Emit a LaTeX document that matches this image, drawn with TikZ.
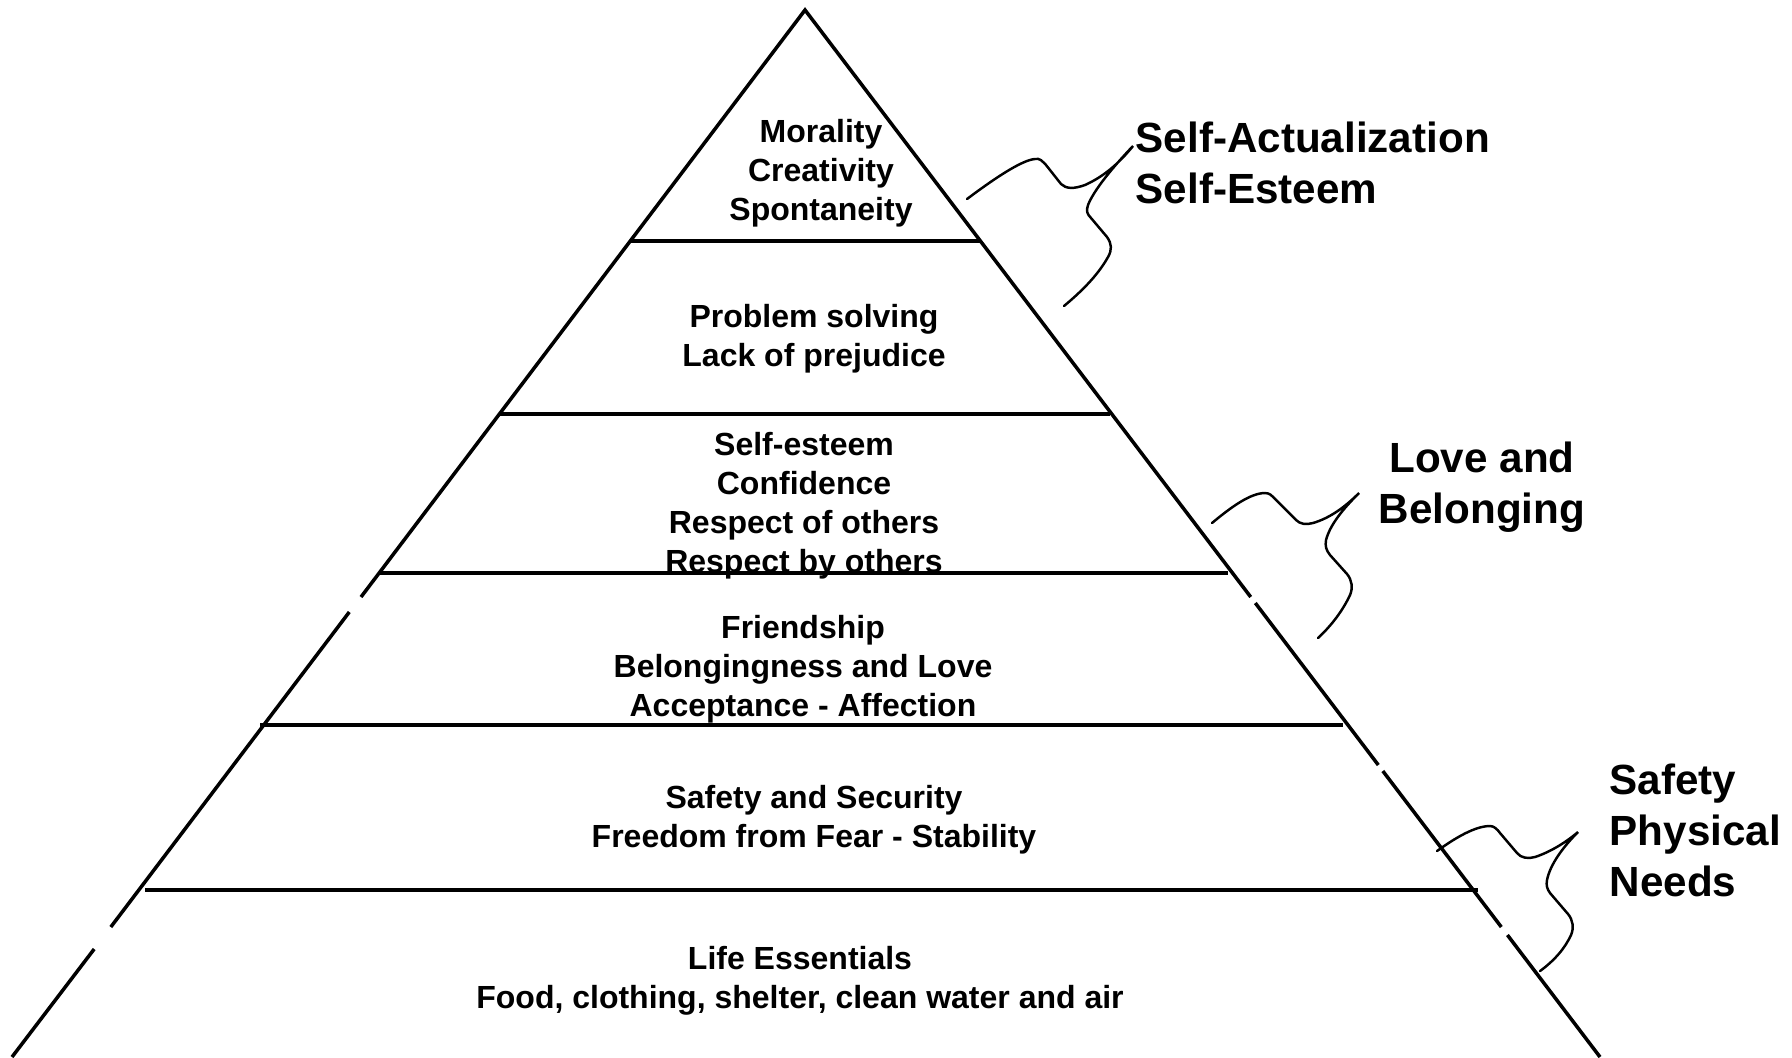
\documentclass[tikz,border=0pt]{standalone}
\usepackage{fontspec}
\setmainfont{Liberation Sans}
\begin{document}
\begin{tikzpicture}[x=0.01cm,y=-0.01cm,
  edge/.style={line width=1pt},
  curl/.style={line width=0.7pt,line cap=round},
  level/.style={font=\fontsize{9.1}{11.1}\selectfont\bfseries,align=center,inner sep=0pt},
  need/.style={font=\fontsize{12}{14.5}\selectfont\bfseries,inner sep=0pt}]

\useasboundingbox (0,0) rectangle (1792,1057);

% Define points
\coordinate (A) at (805,10);
\coordinate (BL) at (12,1057);
\coordinate (BR) at (1600,1057);
\coordinate (L1) at (94.2,949);
\coordinate (L2) at (110.8,927);
\coordinate (L3) at (349.3,612);
\coordinate (L4) at (361,597);
\coordinate (R1) at (1250.7,597);
\coordinate (R2) at (1255.3,603);
\coordinate (R3) at (1378.3,765);
\coordinate (R4) at (1382.8,771);
\coordinate (R5) at (1501.3,927);
\coordinate (R6) at (1507.4,935);

% Draw pyramid sides (with the small breaks)
\draw[edge] (BL) -- (L1);
\draw[edge] (L2) -- (L3);
\draw[edge] (L4) -- (A) -- (R1);
\draw[edge] (R2) -- (R3);
\draw[edge] (R4) -- (R5);
\draw[edge] (R6) -- (BR);

% Draw levels
\draw[edge] (630,241) -- (980,241);
\draw[edge] (499,414) -- (1110,414);
\draw[edge] (380,573) -- (1228,573);
\draw[edge] (260,725) -- (1343,725);
\draw[edge] (145,890) -- (1478,890);

% Draw braces
\draw[curl] (967,199) .. controls (995,178) and (1022,160) .. (1035,159)
  .. controls (1040,158) and (1042,161) .. (1046,165) -- (1061,184)
  .. controls (1066,189) and (1074,189) .. (1085,185)
  .. controls (1105,176) and (1120,162) .. (1133,146)
  .. controls (1112,168) and (1094,190) .. (1088,205)
  .. controls (1086,211) and (1087,214) .. (1091,218) -- (1107,237)
  .. controls (1112,244) and (1112,250) .. (1108,257)
  .. controls (1098,275) and (1082,291) .. (1064,306);
\draw[curl] (1212,523) .. controls (1230,508) and (1250,493) .. (1265,493)
  .. controls (1270,493) and (1272,496) .. (1275,499) -- (1296,520)
  .. controls (1300,524) and (1306,525) .. (1313,523)
  .. controls (1330,518) and (1345,507) .. (1359,493)
  .. controls (1342,510) and (1330,525) .. (1326,540)
  .. controls (1325,546) and (1326,550) .. (1330,555) -- (1347,574)
  .. controls (1352,580) and (1353,588) .. (1350,595)
  .. controls (1343,610) and (1332,625) .. (1318,638);
\draw[curl] (1437,851) .. controls (1455,838) and (1475,826) .. (1490,826)
  .. controls (1494,826) and (1497,829) .. (1500,833) -- (1517,853)
  .. controls (1521,858) and (1528,859) .. (1535,857)
  .. controls (1550,852) and (1565,843) .. (1578,832)
  .. controls (1562,848) and (1550,865) .. (1547,880)
  .. controls (1546,885) and (1547,889) .. (1550,893) -- (1568,914)
  .. controls (1573,920) and (1574,928) .. (1571,935)
  .. controls (1565,948) and (1555,960) .. (1540,971);

% Labels
\node[level] (morality) at (821,173) {Morality\\Creativity\\Spontaneity};
\node[level] (problem) at (814,339) {Problem solving\\Lack of prejudice};
\node[level] (esteem) at (804,506) {Self-esteem\\Confidence\\Respect of others\\Respect by others};
\node[level] (friend) at (803,669) {Friendship\\Belongingness and Love\\Acceptance - Affection};
\node[level] (safety) at (814,820) {Safety and Security\\Freedom from Fear - Stability};
\node[level] (life) at (800,981) {Life Essentials\\Food, clothing, shelter, clean water and air};

\node[need,anchor=west,align=left] (selfact) at (1135,163) {Self-Actualization\\Self-Esteem};
\node[need,align=center] (love) at (1482,487) {Love and\\Belonging};
\node[need,anchor=west,align=left] (physical) at (1609,830) {Safety\\Physical\\Needs};

\end{tikzpicture}
\end{document}
